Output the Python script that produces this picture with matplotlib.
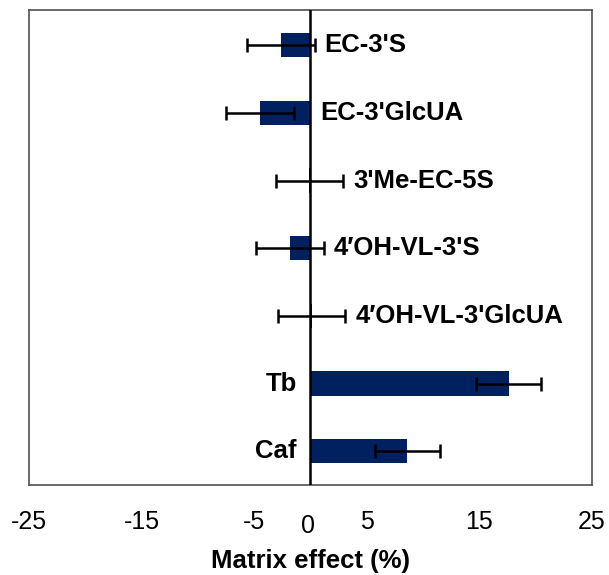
import matplotlib
matplotlib.use('Agg')
import matplotlib.pyplot as plt
import matplotlib.transforms as mtransforms

compounds = ["Caf", "Tb", "4\u2032OH-VL-3'GlcUA", "4\u2032OH-VL-3'S",
             "3'Me-EC-5S", "EC-3'GlcUA", "EC-3'S"]
matrix_effect = [8.6, 17.6, 0.1, -1.8, -0.1, -4.5, -2.6]
error = [2.9, 2.9, 3.0, 3.0, 3.0, 3.0, 3.0]
xticks = [-25, -15, -5, 0, 5, 15, 25]

plt.rcParams['font.family'] = ['Liberation Sans', 'DejaVu Sans']

fig = plt.figure(figsize=(6.09, 5.75), dpi=100)
ax = fig.add_axes([0.0476, 0.1565, 0.9245, 0.826])

ypos = list(range(len(compounds)))
ax.barh(ypos, matrix_effect, height=0.36, color='#002060', zorder=2)
ax.errorbar(matrix_effect, ypos, xerr=error, fmt='none', ecolor='black',
            elinewidth=1.8, capsize=5, capthick=1.8, zorder=4)
ax.axvline(0, color='black', linewidth=1.8, zorder=3)

# category labels next to the bars
for y, (name, v, e) in enumerate(zip(compounds, matrix_effect, error)):
    if v > 5:
        ax.annotate(name, (0, y), xytext=(-10, 0), textcoords='offset points',
                    ha='right', va='center', fontsize=18.5, fontweight='bold')
    else:
        end = max(v, 0, v + e)
        ax.annotate(name, (end, y), xytext=(7, 0), textcoords='offset points',
                    ha='left', va='center', fontsize=18.5, fontweight='bold')

ax.set_xlim(-25, 25)
ax.set_ylim(-0.5, 6.52)
ax.set_yticks([])
ax.set_xticks(xticks)
ax.set_xticklabels([str(t) for t in xticks])
ax.tick_params(axis='x', length=0, pad=18, labelsize=18)
ax.set_xlabel('Matrix effect (%)', fontsize=18.5, fontweight='bold', labelpad=8)

for s in ax.spines.values():
    s.set_color('#505050')
    s.set_linewidth(1.2)

# the zero label sits a little lower than the others
offset = mtransforms.ScaledTranslation(-2 / 72, -3 / 72, fig.dpi_scale_trans)
for lbl in ax.get_xticklabels():
    if lbl.get_text() == '0':
        lbl.set_transform(lbl.get_transform() + offset)

fig.savefig('out.png', dpi=100)
